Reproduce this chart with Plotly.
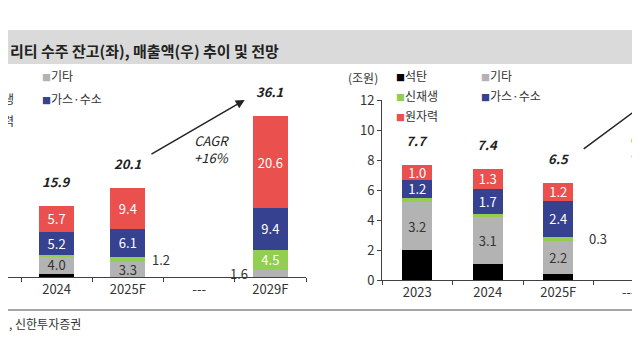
import plotly.graph_objects as go

# ---------------- data ----------------
series = ["석탄", "기타", "신재생", "가스·수소", "원자력"]

# left chart: order backlog (조원)
left_categories = ["2023", "2024", "2025F", "---", "2029F"]
left_coal = [1.1, 0.7, 0.1, None, 0.0]
left_other = [7.0, 4.0, 3.3, None, 1.6]
left_renew = [0.3, 0.3, 1.2, None, 4.5]
left_gas = [2.9, 5.2, 6.1, None, 9.4]
left_nuclear = [5.0, 5.7, 9.4, None, 20.6]
left_totals = [None, 15.9, 20.1, None, 36.1]

# right chart: revenue (조원)
right_categories = ["2023", "2024", "2025F", "---", "2029F"]
right_coal = [2.0, 1.1, 0.4, None, None]
right_other = [3.2, 3.1, 2.2, None, None]
right_renew = [0.3, 0.2, 0.3, None, None]
right_gas = [1.2, 1.7, 2.4, None, None]
right_nuclear = [1.0, 1.3, 1.2, None, None]
right_totals = [7.7, 7.4, 6.5, None, None]

right_yticks = [0, 2, 4, 6, 8, 10, 12]

# ---------------- styles ----------------
FONT = "Noto Sans CJK KR"
colors = {"석탄": "#000000", "기타": "#b3b3b3", "신재생": "#92cf50",
          "가스·수소": "#36418f", "원자력": "#e9504e"}
text_colors = {"석탄": "#000000", "기타": "#333333", "신재생": "#ffffff",
               "가스·수소": "#ffffff", "원자력": "#ffffff"}
W, H = 640, 360
OFF = 8  # page offset of the figure inside the browser window


def px(x):
    return (x - OFF) / W


def py(y):
    return 1 - (y - OFF) / H


left_data = dict(zip(series, [left_coal, left_other, left_renew, left_gas, left_nuclear]))
right_data = dict(zip(series, [right_coal, right_other, right_renew, right_gas, right_nuclear]))

fig = go.Figure()


def add_bars(cats, data, xa, ya, width, threshold):
    for s in series:
        vals = data[s]
        txt = []
        for v in vals:
            if v is None or s == "석탄" or v < threshold:
                txt.append("")
            else:
                txt.append(f"{v:.1f}")
        fig.add_trace(go.Bar(
            x=cats, y=vals, name=s, marker=dict(color=colors[s], line=dict(width=0)),
            width=width, text=txt, textposition="inside", insidetextanchor="middle",
            textangle=0, textfont=dict(color=text_colors[s], size=13, family=FONT),
            xaxis=xa, yaxis=ya, showlegend=False, hoverinfo="skip"))


add_bars(left_categories, left_data, "x", "y", 0.49, 2.0)
add_bars(right_categories, right_data, "x2", "y2", 0.43, 1.0)

ann = []

# totals above bars (category index used as position)
for cats, tots, xr, yr in [(left_categories, left_totals, "x", "y"),
                           (right_categories, right_totals, "x2", "y2")]:
    for i, t in enumerate(tots):
        if t is None:
            continue
        ann.append(dict(x=i, y=t, xref=xr, yref=yr, text=f"<b><i>{t:.1f}</i></b>",
                        showarrow=False, yanchor="bottom", yshift=13,
                        font=dict(size=13, color="#222222", family=FONT)))

# callout labels beside thin segments
callouts = [("left", "2025F", "신재생", 33), ("left", "2029F", "기타", -31),
            ("right", "2025F", "신재생", 40)]
for side, cat, s, shift in callouts:
    cats = left_categories if side == "left" else right_categories
    data = left_data if side == "left" else right_data
    i = cats.index(cat)
    base = sum((data[k][i] or 0) for k in series[:series.index(s)])
    mid = base + data[s][i] / 2
    ann.append(dict(x=i, y=mid, xref="x" if side == "left" else "x2",
                    yref="y" if side == "left" else "y2", text=f"{data[s][i]:.1f}",
                    showarrow=False, xshift=shift,
                    font=dict(size=13, color="#333333", family=FONT)))

# CAGR arrows and text
i29 = left_categories.index("2029F")
i25 = left_categories.index("2025F")
ann.append(dict(x=i29 - 0.36, y=left_totals[i29] + 3.7, xref="x", yref="y",
                ax=i25 + 0.31, ay=left_totals[i25] + 7.3, axref="x", ayref="y",
                showarrow=True, arrowhead=2, arrowsize=1.2, arrowwidth=1.5,
                arrowcolor="#222222", text=""))
ann.append(dict(x=3.17, y=28.8, xref="x", yref="y", text="<i>CAGR<br>+16%</i>",
                showarrow=False, font=dict(size=13, color="#222222", family=FONT)))

r25 = right_categories.index("2025F")
ann.append(dict(x=r25 + 1.67, y=right_totals[r25] + 6.8, xref="x2", yref="y2",
                ax=r25 + 0.34, ay=right_totals[r25] + 2.17, axref="x2", ayref="y2",
                showarrow=True, arrowhead=2, arrowsize=1.2, arrowwidth=1.5,
                arrowcolor="#222222", text=""))
ann.append(dict(x=2.99, y=8.87, xref="x2", yref="y2", text="<i>CAGR<br>+17%</i>",
                xanchor="left", align="left",
                showarrow=False, font=dict(size=13, color="#222222", family=FONT)))

# unit label
ann.append(dict(x=px(363), y=py(78), xref="paper", yref="paper", text="(조원)",
                xanchor="center", yanchor="middle",
                showarrow=False, font=dict(size=12, color="#333333", family=FONT)))


# legends (drawn as text)
def legend_item(name, x, y):
    ann.append(dict(x=px(x), y=py(y), xref="paper", yref="paper", xanchor="left",
                    yanchor="middle",
                    text=f"<span style='color:{colors[name]};font-size:9px'>■</span>{name}",
                    showarrow=False, font=dict(size=12, color="#333333", family=FONT)))


legend_item("석탄", -30, 75)
legend_item("신재생", -30, 98)
legend_item("원자력", -30, 120)
legend_item("기타", 40, 75)
legend_item("가스·수소", 40, 98)

legend_item("석탄", 394, 75)
legend_item("신재생", 394, 95)
legend_item("원자력", 394, 115)
legend_item("기타", 479, 75)
legend_item("가스·수소", 479, 95)

# title and source
ann.append(dict(x=px(8), y=py(50), xref="paper", yref="paper", xanchor="left",
                yanchor="middle",
                text="<b>리티 수주 잔고(좌), 매출액(우) 추이 및 전망</b>", showarrow=False,
                font=dict(size=15, color="#222222", family=FONT)))
ann.append(dict(x=px(7), y=py(323), xref="paper", yref="paper", xanchor="left",
                yanchor="middle",
                text=", 신한투자증권", showarrow=False,
                font=dict(size=12, color="#333333", family=FONT)))

shapes = [
    dict(type="rect", xref="paper", yref="paper", x0=px(0), x1=px(660), y0=py(64), y1=py(30),
         fillcolor="#dadada", line=dict(width=0), layer="below"),
    dict(type="line", xref="paper", yref="paper", x0=px(0), x1=px(660), y0=py(310), y1=py(310),
         line=dict(color="#a6a6a6", width=2)),
]

tickfont = dict(size=13, color="#333333", family=FONT)
# left x range starts where the window edge cuts the 2023 bar
left_x0 = 0.5 - (21 - OFF) / 71.25
right_x1 = (W + OFF - 382) / 70.5 - 0.5

fig.update_layout(
    width=W, height=H, margin=dict(l=0, r=0, t=0, b=0),
    paper_bgcolor="white", plot_bgcolor="rgba(0,0,0,0)",
    barmode="stack", bargap=0.3,
    uniformtext=dict(minsize=13, mode="show"),
    annotations=ann, shapes=shapes,
    xaxis=dict(domain=[0, px(306)], type="category", categoryorder="array",
               categoryarray=left_categories, range=[left_x0, 4.5],
               showline=True, linecolor="#404040", linewidth=1,
               ticks="outside", ticklen=4, tickcolor="#404040", tickson="boundaries",
               tickfont=tickfont, showgrid=False, zeroline=False, automargin=False),
    yaxis=dict(domain=[py(277), py(99)], range=[0, 40], visible=False),
    xaxis2=dict(domain=[px(382), 1], type="category", categoryorder="array",
                categoryarray=right_categories, range=[-0.5, right_x1], anchor="y2",
                showline=True, linecolor="#404040", linewidth=1,
                ticks="outside", ticklen=4, tickcolor="#404040", tickson="boundaries",
                tickfont=tickfont, showgrid=False, zeroline=False, automargin=False),
    yaxis2=dict(domain=[py(280), py(100)], range=[0, 12], anchor="x2",
                tickvals=right_yticks, showline=True, linecolor="#404040", linewidth=1,
                ticks="outside", ticklen=4, tickcolor="#404040", tickfont=tickfont,
                showgrid=False, zeroline=False, automargin=False),
)

fig.write_html("out.html")
